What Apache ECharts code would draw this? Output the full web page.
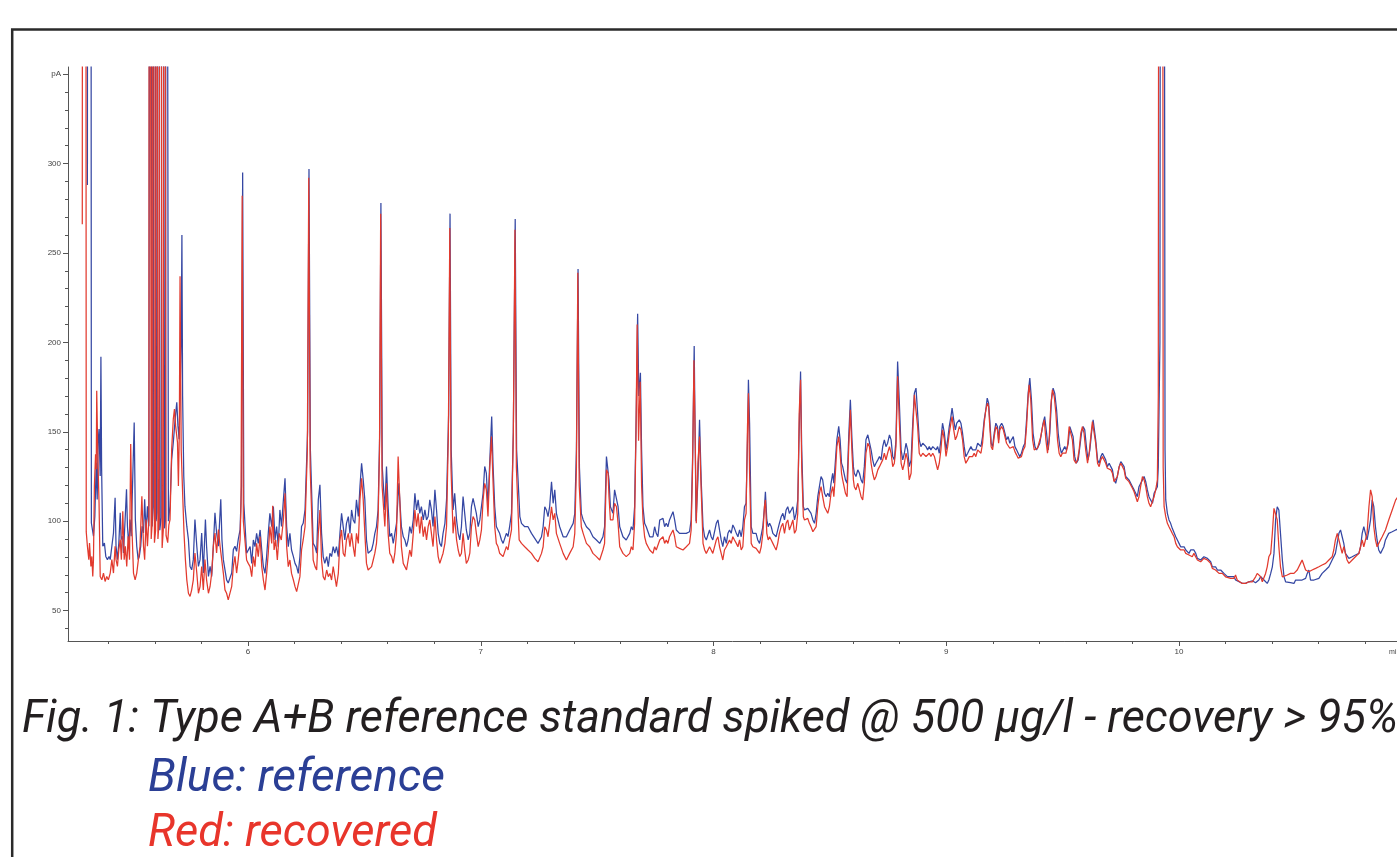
<!DOCTYPE html>
<html><head><meta charset="utf-8">
<script src="https://cdn.jsdelivr.net/npm/echarts@6/dist/echarts.min.js"></script>
<style>html,body{margin:0;padding:0;background:#fff;overflow:hidden}#c{width:1397px;height:857px}</style>
</head><body><div id="c"></div>
<script>
// Chromatogram traces: [retention time (min), signal (pA)]; 900 = off-scale peak top
const blueTrace = [
[5.310,288],[5.312,900],[5.324,900],[5.327,99],[5.336,91.6],[5.342,102.8],[5.348,132.7],[5.352,112.1],[5.356,144],[5.360,151.5],[5.365,125.3],[5.368,192],[5.371,130],[5.376,86],[5.383,87.8],[5.389,80.3],[5.396,78.5],[5.403,80.3],[5.408,78.5],[5.415,86],[5.422,93.4],[5.429,113.1],[5.433,86],[5.439,78.5],[5.445,87.8],[5.451,104.7],[5.455,89.7],[5.461,91.6],[5.465,82.2],[5.472,100.9],[5.478,117.8],[5.482,97.2],[5.488,86],[5.493,100.9],[5.498,91.6],[5.505,125.3],[5.511,155.2],[5.516,100.9],[5.522,86],[5.528,78.5],[5.533,80.3],[5.539,86],[5.545,97.2],[5.551,93.4],[5.556,112.2],[5.562,93.4],[5.568,108.4],[5.574,97.2],
[5.580,900],[5.584,900],[5.588,97],[5.593,108],[5.597,900],[5.601,900],[5.605,100],[5.609,105],[5.613,900],[5.617,900],[5.621,95],[5.627,102],[5.632,900],[5.637,900],[5.641,96],[5.645,100],[5.649,900],[5.654,900],[5.658,100],
[5.665,108.4],[5.672,134.6],[5.679,144],[5.687,157.1],[5.694,166.5],[5.699,153.3],[5.704,145.9],[5.713,200],[5.716,260],[5.719,170],[5.724,125.3],[5.729,108.4],[5.737,97.2],[5.744,89.7],[5.751,74.7],[5.758,72.8],[5.765,78.5],[5.772,100.9],[5.780,86],[5.787,74.7],[5.794,78.5],[5.801,93.4],[5.808,71],[5.817,100.9],[5.822,86],[5.830,69.1],[5.837,74.7],[5.844,69.1],[5.851,86],[5.858,104.7],[5.865,93.4],[5.873,86],[5.877,97.2],[5.883,112.2],[5.888,89.7],[5.894,78.5],[5.901,78.5],[5.908,67.2],[5.915,65.4],[5.923,65.4],[5.930,71],[5.937,84.1],[5.944,86],[5.951,83.1],[5.958,89.7],[5.966,95.3],[5.972,120],[5.977,295],[5.982,110],
[5.994,82.1],[6.009,85.8],[6.016,76.4],[6.023,89.5],[6.030,85.8],[6.037,93.2],[6.044,87.6],[6.052,95.1],[6.059,83.9],[6.066,74.6],[6.073,70.8],[6.080,80.2],[6.087,93.2],[6.094,104.4],[6.102,97],[6.109,108.2],[6.116,89.5],[6.123,97],[6.130,85.8],[6.137,106.3],[6.144,97],[6.152,111.9],[6.159,124],[6.166,97],[6.173,85.8],[6.180,93.2],[6.187,83.9],[6.195,80.2],[6.202,76.4],[6.209,74.6],[6.216,70.8],[6.223,80.2],[6.230,97],[6.237,98.8],[6.245,106.3],[6.256,150],[6.262,297],[6.268,140],
[6.280,87.6],[6.288,85.8],[6.295,82.1],[6.302,111.9],[6.309,120.3],[6.316,93.2],[6.323,80.2],[6.330,76.4],[6.338,80.2],[6.345,74.6],[6.352,82.1],[6.359,80.2],[6.366,85.8],[6.373,82.1],[6.380,85.8],[6.388,80.2],[6.395,93.2],[6.402,104.4],[6.409,97],[6.416,89.5],[6.423,98.8],[6.431,102.6],[6.438,93.2],[6.445,106.3],[6.452,100.7],[6.459,98.8],[6.466,111.9],[6.474,102.6],[6.481,119.4],[6.488,132.4],[6.495,123.1],[6.502,111.9],[6.509,89.5],[6.516,82.1],[6.524,82.1],[6.531,83.9],[6.538,87.6],[6.545,93.2],[6.552,97],[6.559,106.3],[6.566,150],[6.571,278],[6.577,130],
[6.588,106.3],[6.595,130.6],[6.602,108.2],[6.609,91.4],[6.617,93.2],[6.624,87.6],[6.631,93.2],[6.638,98.8],[6.648,121.2],[6.659,97],[6.667,91.4],[6.674,89.5],[6.681,85.8],[6.688,89.5],[6.695,97],[6.702,93.2],[6.710,100.7],[6.717,115.6],[6.724,106.3],[6.731,111.9],[6.738,104.4],[6.745,108.2],[6.753,100.7],[6.760,106.3],[6.767,100.7],[6.774,102.6],[6.781,111.9],[6.788,106.3],[6.795,97],[6.803,117.5],[6.810,106.3],[6.817,93.2],[6.824,87.6],[6.831,85.8],[6.838,93.2],[6.846,98.8],[6.853,111.9],[6.862,160],[6.868,272],[6.873,140],
[6.881,106.3],[6.888,115.6],[6.896,100.7],[6.903,93.2],[6.910,89.5],[6.917,97],[6.924,113.8],[6.931,104.4],[6.938,95.1],[6.946,89.5],[6.953,93.2],[6.960,108.2],[6.967,112.8],[6.974,111.9],[6.981,104.4],[6.989,97],[6.996,100.7],[7.003,108.2],[7.010,115.6],[7.017,130.6],[7.024,126.8],[7.031,108.2],[7.039,134.3],[7.047,158.6],[7.053,130.6],[7.060,108.2],[7.067,97],[7.074,95.1],[7.081,93.2],[7.089,89.5],[7.096,87.6],[7.103,87.6],[7.110,93.2],[7.117,91.4],[7.124,97],[7.132,104.4],[7.140,150],[7.148,269],[7.154,140],
[7.168,102.6],[7.175,98.8],[7.189,96.9],[7.203,96.9],[7.218,93.2],[7.232,90.4],[7.246,87.6],[7.261,91.3],[7.268,96.9],[7.275,108.1],[7.282,106.3],[7.289,102.6],[7.296,108.1],[7.304,122.1],[7.311,110],[7.318,117.5],[7.325,104.4],[7.339,96.9],[7.354,91.3],[7.368,91.3],[7.382,95.1],[7.397,98.8],[7.404,104.4],[7.411,140],[7.418,241],[7.424,130],
[7.432,104.4],[7.440,100.7],[7.454,96.9],[7.468,95.1],[7.482,91.3],[7.497,89.5],[7.511,87.6],[7.525,91.3],[7.532,96.9],[7.540,136.1],[7.547,135.2],[7.551,123.1],[7.557,108.1],[7.568,104.4],[7.575,117.5],[7.583,117.5],[7.590,108.1],[7.597,96.9],[7.611,91.3],[7.625,89.5],[7.640,93.2],[7.647,96.9],[7.654,95.1],[7.661,108.1],[7.668,160],[7.674,216],[7.679,170],[7.686,183],[7.691,140],
[7.697,108.1],[7.704,98.8],[7.711,96.9],[7.726,91.3],[7.740,91.3],[7.747,96.9],[7.754,93.2],[7.761,91.3],[7.769,100.7],[7.783,101.6],[7.790,96.9],[7.797,98.8],[7.804,96.9],[7.811,100.7],[7.826,105.3],[7.833,100.7],[7.840,95.1],[7.854,93.2],[7.869,93.2],[7.883,93.2],[7.897,94.1],[7.904,100.7],[7.911,140],[7.917,198],[7.925,100],[7.933,123.1],[7.940,156.7],[7.947,123.1],[7.955,96.9],[7.962,91.3],[7.969,89.5],[7.983,95.1],[7.990,91.3],[7.997,89.5],[8.012,98.8],[8.019,100.7],
[8.026,95],[8.033,89.5],[8.040,85.8],[8.047,91.3],[8.055,87.6],[8.062,93.2],[8.069,95.1],[8.076,93.2],[8.083,97.9],[8.090,96],[8.098,93.2],[8.105,91.3],[8.112,95.1],[8.119,91.3],[8.126,96.9],[8.133,108.1],[8.140,110],[8.146,145.5],[8.150,179.1],[8.155,154.8],[8.162,96.9],[8.169,93.2],[8.176,93.2],[8.183,93.2],[8.190,89.5],[8.198,87.6],[8.205,88.5],[8.212,96.9],[8.219,108.1],[8.223,116.5],[8.229,100.7],[8.235,96.9],[8.241,98.8],[8.248,96.9],[8.255,93.2],[8.262,93.2],[8.269,91.3],[8.276,95.1],[8.283,98.8],[8.291,102.5],[8.298,104.4],[8.305,100.7],[8.312,106.3],[8.319,108.1],[8.326,104.4],[8.334,106.3],[8.341,108.1],[8.348,100.7],[8.355,104.4],[8.362,111.9],[8.368,150],[8.374,183.7],[8.379,140],[8.386,108.1],[8.391,106.3],[8.398,106.3],[8.405,107.2],[8.412,106.3],[8.419,104.4],[8.427,100.7],[8.434,98.8],[8.441,104.4],[8.448,113.7],[8.455,119.3],[8.462,125],[8.469,123.1],[8.477,115.6],[8.484,113.7],[8.491,115.6],[8.498,113.7],[8.505,121.2],[8.512,126.8],[8.517,121.2],[8.522,130.5],[8.530,145.5],[8.538,153],[8.544,145.5],[8.550,132.4],[8.555,130.5],[8.561,126.8],[8.567,123.1],[8.574,121.2],[8.581,147.3],[8.588,167.9],[8.595,145.5],[8.601,130.5],[8.605,126.8],[8.612,125],[8.620,128.7],[8.627,126.8],[8.634,123.1],[8.641,121.2],[8.648,130.5],[8.655,145.5],[8.663,148.3],[8.670,147.3],[8.677,139.9],[8.684,134.3],[8.691,130.5],[8.698,132.4],[8.706,134.3],[8.713,136.2],[8.720,134.3],[8.727,141.7],[8.734,145.5],[8.741,141.7],[8.748,143.6],[8.756,148.3],[8.763,145.5],[8.770,136.2],[8.777,134.3],[8.784,145.5],[8.791,189.3],[8.798,167.9],[8.806,139.9],[8.813,134.3],[8.820,138],[8.827,143.6],[8.834,139.9],[8.841,130.5],[8.849,134.3],[8.856,154.8],[8.863,171.6],[8.870,174.4],[8.877,160.4],[8.884,145.5],[8.891,141.7],[8.899,143.6],[8.906,143.6],[8.913,141.7],[8.920,139.9],[8.927,141.7],[8.934,139.9],[8.942,141.7],[8.949,140.8],[8.956,139.9],[8.963,141.7],[8.970,138],[8.977,145.5],[8.984,154.8],[8.992,149.2],[8.999,139.9],[9.006,145.5],[9.013,153],[9.020,158.5],[9.025,163.2],[9.032,156.7],[9.039,151.1],[9.045,154.8],
[9.056,156.7],[9.063,154.8],[9.070,149.2],[9.077,141.7],[9.084,136.1],[9.092,138],[9.099,139.9],[9.106,141.7],[9.113,139.9],[9.120,140.8],[9.127,139.9],[9.135,143.6],[9.142,144.5],[9.149,141.7],[9.156,147.3],[9.163,156.7],[9.170,162.3],[9.176,168.8],[9.182,166],[9.187,156.7],[9.193,143.6],[9.199,141.7],[9.206,149.2],[9.213,154.8],[9.220,152.9],[9.225,145.5],[9.230,152.9],[9.238,154.8],[9.245,152.9],[9.252,149.2],[9.259,145.5],[9.266,147.3],[9.273,143.6],[9.280,145.5],[9.288,147.3],[9.295,141.7],[9.302,139.9],[9.309,138],[9.316,136.1],[9.323,138],[9.331,141.7],[9.338,143.6],[9.345,156.7],[9.352,171.6],[9.359,180],[9.366,167.9],[9.373,149.2],[9.381,141.7],[9.388,139.9],[9.395,141.7],[9.402,143.6],[9.409,149.2],[9.416,154.8],[9.423,158.5],[9.431,149.2],[9.438,139.9],[9.445,149.2],[9.452,167.9],[9.459,174.4],[9.466,171.6],[9.474,162.3],[9.481,149.2],[9.488,141.7],[9.495,138],[9.502,139.9],[9.509,141.7],[9.516,139.9],[9.524,143.6],[9.531,152.9],[9.538,153.9],[9.545,147.3],[9.552,136.1],[9.559,132.4],[9.567,134.3],[9.574,141.7],[9.581,149.2],[9.588,152.9],[9.595,151.1],[9.602,141.7],[9.609,134.3],[9.617,139.9],[9.624,149.2],[9.631,156.7],[9.637,157.6],[9.642,145.5],[9.650,134.3],[9.657,132.4],[9.664,136.1],[9.671,138],[9.678,138],[9.685,134.3],[9.692,130.5],[9.700,132.4],[9.707,130.5],[9.714,128.7],[9.721,123.1],[9.728,121.2],[9.735,125],[9.743,130.5],[9.750,133.3],[9.757,134.3],[9.764,130.5],[9.771,125],[9.778,125],[9.785,123.1],[9.793,122.1],[9.800,119.3],[9.807,117.5],[9.814,115.6],[9.821,113.7],[9.828,119.3],[9.835,119.3],[9.843,123.1],[9.850,125],[9.857,122.1],[9.864,117.5],[9.871,113.7],[9.878,111.9],[9.886,110],[9.893,115.6],[9.900,117.5],[9.907,119.3],[9.911,130.5],[9.918,200],[9.923,900],[9.933,900],[9.940,140],[9.943,111.9],[9.950,104.4],[9.957,100.7],[9.964,98.8],[9.971,96],[9.979,95.1],[9.986,91.3],[9.993,89.5],[10.000,87.6],[10.007,85.7],[10.014,86.7],[10.022,85.7],[10.029,83.9],[10.036,84.8],[10.043,82],[10.050,83.9],[10.057,82.9],[10.064,83.9],[10.072,82],[10.079,79.2],[10.086,80.1],[10.093,78.3],[10.100,79.2],[10.107,80.1],[10.114,81.1],[10.122,79.2],[10.129,78.3],[10.136,77.3],[10.143,74.5],[10.157,74.5],[10.165,72.7],[10.172,71.7],[10.179,72.7],[10.186,71.7],[10.193,70.8],[10.200,69.9],[10.208,69],[10.222,69],[10.229,68],[10.236,69],[10.243,67.1],[10.258,66.1],[10.272,65.2],[10.286,65.2],[10.300,66.1],[10.315,66.7],[10.329,65.6],[10.343,67.1],[10.351,69],[10.358,68],[10.365,67.1],[10.372,66.1],[10.379,65.2],[10.386,67.1],[10.394,70.8],[10.401,74.5],[10.408,82],[10.415,100.7],[10.422,108.1],[10.429,106.3],[10.436,93.2],[10.444,78.3],[10.451,69],[10.458,66.1],[10.465,65.2],[10.479,65.6],[10.494,65.2],[10.501,67.1],[10.515,67.1],[10.529,67.1],[10.544,68],[10.551,70.8],[10.558,72.7],[10.565,67.1],[10.580,67.1],[10.601,68],[10.615,70.8],[10.630,72.7],[10.644,74.5],[10.658,78.3],[10.672,82],[10.687,93.2],[10.694,95.1],[10.701,91.3],[10.708,87.6],[10.715,82],[10.730,79.2],[10.744,80.1],[10.758,81.1],[10.773,82],[10.780,85.7],[10.787,93.2],[10.794,96.9],[10.801,93.2],[10.808,89.5],[10.816,95.1],[10.823,100.7],[10.830,111.9],[10.837,108.1],[10.844,96.9],[10.851,89.5],[10.858,83.9],[10.866,82],[10.873,82.9],[10.880,85.7],[10.887,89.5],[10.901,93.2],[10.916,94.1],[10.931,95.1],[10.940,95.5]
];
const redTrace = [
[5.288,266],[5.290,900],[5.302,900],[5.305,94],[5.310,86],[5.316,78.5],[5.319,87.8],[5.325,74.7],[5.329,80.3],[5.333,69.1],[5.336,78.5],[5.340,119.7],[5.345,137.4],[5.348,129],[5.350,173],[5.355,134.6],[5.360,110.3],[5.365,69.1],[5.372,67.2],[5.379,71],[5.386,66.3],[5.393,69.1],[5.400,67.2],[5.408,71],[5.415,78.5],[5.422,71],[5.429,86],[5.433,78.5],[5.439,74.7],[5.445,84.1],[5.451,89.7],[5.456,78.5],[5.462,105.6],[5.468,78.5],[5.473,86],[5.479,74.7],[5.485,91.6],[5.491,78.5],[5.496,143.1],[5.502,93.4],[5.508,71],[5.515,67.2],[5.522,71],[5.529,78.5],[5.536,86],[5.544,114],[5.551,86],[5.556,78.5],[5.562,100.9],[5.568,86],[5.574,100.9],
[5.577,900],[5.581,900],[5.584,90],[5.588,98],[5.591,900],[5.595,900],[5.598,88],[5.603,95],[5.606,900],[5.610,900],[5.613,90],[5.618,100],[5.622,900],[5.627,900],[5.631,85],[5.636,95],[5.640,900],[5.644,900],[5.648,92],[5.655,88],[5.660,98],
[5.665,100.9],[5.672,140.2],[5.679,157.1],[5.684,162.7],[5.689,153.3],[5.697,144],[5.701,119.7],[5.705,151.5],[5.708,237],[5.713,140],[5.719,116],[5.725,93.4],[5.731,78.5],[5.737,67.2],[5.744,59.7],[5.751,57.9],[5.758,61.6],[5.765,67.2],[5.772,82.2],[5.780,71],[5.787,59.7],[5.794,63.5],[5.801,74.7],[5.808,61.6],[5.815,78.5],[5.822,67.2],[5.830,59.7],[5.837,63.5],[5.844,71],[5.851,86],[5.858,93.4],[5.865,82.2],[5.873,95.3],[5.880,86],[5.887,78.5],[5.894,71],[5.901,61.6],[5.908,59.7],[5.915,56],[5.923,56],[5.930,63.5],[5.937,74.7],[5.944,80.3],[5.951,71],[5.958,78.5],[5.966,89.7],[5.970,110],[5.975,282],[5.980,100],
[5.994,78.3],[6.001,76.4],[6.009,74.6],[6.016,69],[6.023,80.2],[6.030,74.6],[6.037,87.6],[6.044,80.2],[6.052,91.4],[6.059,74.6],[6.066,67.1],[6.073,61.5],[6.080,70.8],[6.087,82.1],[6.094,97],[6.102,87.6],[6.106,108.6],[6.112,83.9],[6.119,89.5],[6.126,78.3],[6.134,93.2],[6.143,89.5],[6.152,100.7],[6.159,115.6],[6.166,85.8],[6.173,74.6],[6.180,78.3],[6.187,70.8],[6.195,67.1],[6.202,63.4],[6.209,60.6],[6.216,59.7],[6.223,69],[6.230,83.9],[6.237,89.5],[6.245,97],[6.255,140],[6.261,292],[6.267,130],
[6.280,78.3],[6.288,74.6],[6.295,72.7],[6.302,93.2],[6.309,106.3],[6.316,78.3],[6.323,69],[6.330,67.1],[6.338,72.7],[6.345,69],[6.352,70.8],[6.359,67.1],[6.366,74.6],[6.373,69],[6.380,63.4],[6.388,70.8],[6.395,89.5],[6.402,95.1],[6.409,82.1],[6.416,80.2],[6.423,89.5],[6.431,93.2],[6.438,85.8],[6.445,93.2],[6.452,85.8],[6.459,80.2],[6.466,93.2],[6.474,87.6],[6.481,111.9],[6.488,124],[6.495,111.9],[6.502,93.2],[6.509,76.4],[6.516,72.7],[6.524,72.7],[6.531,74.6],[6.538,78.3],[6.545,82.1],[6.552,87.6],[6.559,100.7],[6.565,140],[6.570,272],[6.576,120],
[6.588,97],[6.595,121.2],[6.602,93.2],[6.609,82.1],[6.617,80.2],[6.624,76.4],[6.631,82.1],[6.638,93.2],[6.645,136.2],[6.652,111.9],[6.659,85.8],[6.667,76.4],[6.674,74.6],[6.681,72.7],[6.688,78.3],[6.695,83.9],[6.702,80.2],[6.710,93.2],[6.717,106.3],[6.724,97],[6.731,104.4],[6.738,93.2],[6.745,102.6],[6.753,91.4],[6.760,97],[6.767,89.5],[6.774,97],[6.781,100.7],[6.788,93.2],[6.795,85.8],[6.803,102.6],[6.810,89.5],[6.817,80.2],[6.824,76.4],[6.831,76.4],[6.838,82.1],[6.846,87.6],[6.853,97],[6.861,150],[6.867,264],[6.872,130],
[6.881,93.2],[6.888,102.6],[6.896,89.5],[6.903,83.9],[6.910,80.2],[6.917,82.1],[6.924,93.2],[6.931,83.9],[6.938,76.4],[6.946,78.3],[6.953,82.1],[6.960,97],[6.967,102.6],[6.974,100.7],[6.981,93.2],[6.989,85.8],[6.996,89.5],[7.003,95.1],[7.010,111.9],[7.017,121.2],[7.024,117.5],[7.031,102.6],[7.039,130.6],[7.046,147.4],[7.053,121.2],[7.060,97],[7.067,87.6],[7.074,85.8],[7.081,82.1],[7.089,82.1],[7.096,80.2],[7.103,80.2],[7.110,85.8],[7.117,83.9],[7.124,89.5],[7.132,95.1],[7.140,150],[7.147,263],[7.153,130],
[7.165,89.5],[7.175,87.6],[7.189,85.7],[7.203,83.9],[7.218,82],[7.232,79.2],[7.246,77.3],[7.261,82],[7.268,85.7],[7.275,96.9],[7.282,95.1],[7.289,91.3],[7.296,98.8],[7.304,108.1],[7.311,100.7],[7.318,104.4],[7.325,93.2],[7.339,87.6],[7.354,82],[7.368,78.3],[7.375,77.3],[7.382,82],[7.397,85.7],[7.404,93.2],[7.411,130],[7.417,239],[7.423,120],
[7.432,96.9],[7.440,93.2],[7.454,87.6],[7.468,85.7],[7.482,82],[7.497,80.2],[7.511,78.3],[7.525,83.9],[7.532,87.6],[7.540,128.7],[7.547,126.8],[7.551,113.7],[7.557,100.7],[7.568,100.7],[7.575,110],[7.583,108.1],[7.590,98.8],[7.597,85.7],[7.611,82],[7.625,80.2],[7.640,82],[7.647,85.7],[7.654,83.9],[7.661,98.8],[7.667,150],[7.672,210],[7.678,145],[7.685,178],[7.691,120],
[7.697,100.7],[7.704,91.3],[7.711,87.6],[7.726,83.9],[7.740,82],[7.747,85.7],[7.754,83.9],[7.761,82.9],[7.769,89.5],[7.783,91.3],[7.790,87.6],[7.797,89.5],[7.804,87.6],[7.811,91.3],[7.826,95.1],[7.833,91.3],[7.840,85.7],[7.854,84.8],[7.869,83.9],[7.883,85.7],[7.897,87.6],[7.904,95.1],[7.910,130],[7.916,190],[7.922,140],[7.926,98.8],[7.933,132.4],[7.940,147.3],[7.947,117.5],[7.955,87.6],[7.962,83.9],[7.969,82],[7.983,85.7],[7.990,83.9],[7.997,82],[8.012,89.5],[8.019,91.3],
[8.026,85.7],[8.033,82],[8.040,78.3],[8.047,83.9],[8.055,85.7],[8.062,87.6],[8.069,89.5],[8.076,87.6],[8.083,91.3],[8.090,89.5],[8.098,87.6],[8.105,85.7],[8.112,89.5],[8.119,83.9],[8.126,85.7],[8.133,100.7],[8.140,104.4],[8.146,153],[8.150,171.6],[8.155,126.8],[8.162,87.6],[8.169,85.7],[8.176,85.7],[8.183,84.8],[8.190,83.9],[8.198,82],[8.205,85.7],[8.212,93.2],[8.219,108.1],[8.223,111.9],[8.229,93.2],[8.235,89.5],[8.241,91.3],[8.248,89.5],[8.255,87.6],[8.262,85.7],[8.269,83.9],[8.276,87.6],[8.283,93.2],[8.291,97],[8.298,98.8],[8.305,93.2],[8.312,98.8],[8.319,100.7],[8.326,95.1],[8.334,97.9],[8.341,100.7],[8.348,93.2],[8.355,95.1],[8.362,104.4],[8.368,160],[8.374,179.1],[8.379,130],[8.386,102.5],[8.391,100.7],[8.398,100.7],[8.405,101.6],[8.412,98.8],[8.419,96.9],[8.427,94.1],[8.434,93.2],[8.441,97],[8.448,108.1],[8.455,115.6],[8.462,119.3],[8.469,113.7],[8.477,108.1],[8.484,106.3],[8.491,104.4],[8.498,108.1],[8.505,115.6],[8.512,119.3],[8.517,113.7],[8.522,123.1],[8.530,141.7],[8.538,147.3],[8.544,138],[8.550,126.8],[8.555,123.1],[8.561,119.3],[8.567,115.6],[8.574,113.7],[8.581,141.7],[8.588,162.3],[8.595,138],[8.601,123.1],[8.605,119.3],[8.612,117.5],[8.620,121.2],[8.627,117.5],[8.634,113.7],[8.641,111.9],[8.648,121.2],[8.655,138],[8.663,143.6],[8.670,141.7],[8.677,132.4],[8.684,126.8],[8.691,123.1],[8.698,125],[8.706,128.7],[8.713,130.5],[8.720,130.5],[8.727,134.3],[8.734,138],[8.741,134.3],[8.748,138],[8.756,141.7],[8.763,138],[8.770,130.5],[8.777,132.4],[8.784,141.7],[8.791,181],[8.798,156.7],[8.806,132.4],[8.813,128.7],[8.820,132.4],[8.827,138],[8.834,134.3],[8.841,123.1],[8.849,126.8],[8.856,149.2],[8.863,170.7],[8.870,169.7],[8.877,153],[8.884,138],[8.891,136.2],[8.899,138],[8.906,138],[8.913,136.2],[8.920,136.2],[8.927,138],[8.934,136.2],[8.942,138],[8.949,136.2],[8.956,132.4],[8.963,128.7],[8.970,132.4],[8.977,139.9],[8.984,151.1],[8.992,145.5],[8.999,136.2],[9.006,141.7],[9.013,149.2],[9.020,154.8],[9.025,158.5],[9.032,151.1],[9.039,145.5],[9.045,147.3],
[9.056,152.9],[9.063,151.1],[9.070,145.5],[9.077,136.1],[9.084,132.4],[9.092,134.3],[9.099,136.1],[9.106,137.1],[9.113,136.1],[9.120,138],[9.127,136.1],[9.135,139.9],[9.142,140.8],[9.149,138],[9.156,143.6],[9.163,154.8],[9.170,162.3],[9.177,166],[9.182,164.1],[9.187,152.9],[9.193,141.7],[9.199,139.9],[9.206,147.3],[9.213,152.9],[9.220,151.1],[9.225,143.6],[9.230,151.1],[9.238,152.9],[9.245,151.1],[9.252,147.3],[9.259,143.6],[9.266,143.6],[9.273,140.8],[9.280,141.7],[9.288,141.7],[9.295,138.9],[9.302,137.1],[9.309,135.2],[9.316,134.3],[9.323,136.1],[9.331,139.9],[9.338,141.7],[9.345,152.9],[9.352,169.7],[9.356,176.3],[9.363,167.9],[9.371,145.5],[9.378,139.9],[9.385,138.9],[9.392,140.8],[9.399,141.7],[9.406,147.3],[9.414,152.9],[9.421,156.7],[9.428,145.5],[9.435,138],[9.442,145.5],[9.449,164.1],[9.456,173.5],[9.464,169.7],[9.471,160.4],[9.478,145.5],[9.485,138],[9.492,136.1],[9.499,138],[9.506,138.9],[9.514,138],[9.521,141.7],[9.528,152.9],[9.535,152.9],[9.542,145.5],[9.549,134.3],[9.557,132.4],[9.564,134.3],[9.571,139.9],[9.578,149.2],[9.585,152.9],[9.592,149.2],[9.599,139.9],[9.607,132.4],[9.614,138],[9.621,147.3],[9.628,155.7],[9.635,154.8],[9.642,143.6],[9.650,132.4],[9.657,130.5],[9.664,134.3],[9.671,136.1],[9.678,137.1],[9.685,132.4],[9.692,129.6],[9.700,130.5],[9.707,128.7],[9.714,126.8],[9.721,122.1],[9.728,121.2],[9.735,125],[9.743,130.5],[9.750,132.4],[9.757,132.4],[9.764,128.7],[9.771,124],[9.778,123.1],[9.785,122.1],[9.793,121.2],[9.800,118.4],[9.807,116.5],[9.814,113.7],[9.821,110.9],[9.828,113.7],[9.835,119.3],[9.843,125],[9.850,123.1],[9.857,119.3],[9.864,113.7],[9.871,110],[9.878,108.1],[9.886,107.2],[9.893,113.7],[9.900,117.5],[9.907,123.1],[9.911,170],[9.915,900],[9.928,900],[9.932,130],[9.936,108.1],[9.943,102.5],[9.950,98.8],[9.957,96.9],[9.964,95.1],[9.971,93.2],[9.979,91.3],[9.986,87.6],[9.993,85.7],[10.000,84.8],[10.007,83.9],[10.014,84.8],[10.022,83.9],[10.029,82],[10.036,82.9],[10.043,81.1],[10.050,82],[10.057,80.1],[10.064,82],[10.072,81.1],[10.079,78.3],[10.086,78.3],[10.093,77.3],[10.100,78.3],[10.107,79.2],[10.114,80.1],[10.122,78.3],[10.129,77.3],[10.136,76.4],[10.143,73.6],[10.150,73.6],[10.157,72.7],[10.165,71.7],[10.172,70.8],[10.179,71.7],[10.186,70.8],[10.193,69.9],[10.200,68.9],[10.208,68],[10.222,68],[10.229,67.1],[10.236,68],[10.243,69.9],[10.250,67.1],[10.258,66.1],[10.272,65.2],[10.286,65.2],[10.300,66.1],[10.315,66.1],[10.322,67.1],[10.329,68.9],[10.336,70.8],[10.343,71.7],[10.351,68.9],[10.358,66.1],[10.365,67.1],[10.372,70.8],[10.379,74.5],[10.386,80.1],[10.394,82],[10.401,93.2],[10.408,107.2],[10.412,108.1],[10.415,106.3],[10.422,100.7],[10.429,85.7],[10.436,74.5],[10.444,68.9],[10.451,69.3],[10.465,69.9],[10.479,70.8],[10.494,70.8],[10.508,72.7],[10.515,72.7],[10.522,76.4],[10.529,78.3],[10.537,79.2],[10.544,72.7],[10.551,71.7],[10.558,71.7],[10.572,72.7],[10.587,73.6],[10.601,74.5],[10.615,75.5],[10.630,76.4],[10.644,78.3],[10.658,80.1],[10.665,83.9],[10.672,89.5],[10.680,93.2],[10.687,89.5],[10.694,85.7],[10.701,82],[10.708,85.7],[10.715,82],[10.722,78.3],[10.730,76.4],[10.737,77.3],[10.744,78.3],[10.758,80.1],[10.773,82],[10.780,85.7],[10.787,89.5],[10.794,85.7],[10.801,85.7],[10.808,93.2],[10.816,108.1],[10.823,117.5],[10.830,113.7],[10.837,96.9],[10.844,89.5],[10.851,85.7],[10.858,87.6],[10.873,91.3],[10.887,95.1],[10.901,100.7],[10.916,106.3],[10.931,111.9],[10.940,113.5]
];
const xMajorTicks = [6, 7, 8, 9, 10];
const xMinorTicks = [5.4,5.6,5.8,6,6.2,6.4,6.6,6.8,7,7.2,7.4,7.6,7.8,8,8.2,8.4,8.6,8.8,9,9.2,9.4,9.6,9.8,10,10.2,10.4,10.6,10.8];
const yMajorTicks = [50, 100, 150, 200, 250, 300, 350];
const yMinorTicks = [40,50,60,70,80,90,100,110,120,130,140,150,160,170,180,190,200,210,220,230,240,250,260,270,280,290,300,310,320,330,340,350];
const yUnitLabel = 'pA';
const xUnitLabel = 'min';
const captionLines = [
  'Fig. 1: Type A+B reference standard spiked @ 500 µg/l - recovery > 95%',
  'Blue: reference',
  'Red: recovered'
];
const captionColors = ['#231f20', '#2b3f95', '#e8352b'];

// ---- layout ----
const X_MIN = 5.2266, X_MAX = 10.9366, Y_MIN = 33, Y_MAX = 354;
const captionFont = 'italic 400 47px Roboto';
const captionBoxes = [ {x: 22, y: 720, w: 1376}, {x: 148, y: 779, w: 297}, {x: 148, y: 834, w: 289} ];
const mctx = document.createElement('canvas').getContext('2d');
mctx.font = captionFont;

const chart = echarts.init(document.getElementById('c'), null, {renderer: 'canvas'});
const axisCol = '#555';
const lblStyle = {fontSize: 8, color: '#444', fontFamily: 'Liberation Sans, Arial, sans-serif'};
const graphics = [
  {type: 'rect', shape: {x: 12.2, y: 29.5, width: 1420, height: 900}, style: {fill: 'none', stroke: '#2a2a2a', lineWidth: 2.5}, z: 10},
  {type: 'text', x: 1389, y: 652, style: {text: xUnitLabel, fontSize: 7, fill: '#444', fontFamily: 'Liberation Sans, Arial', verticalAlign: 'middle'}}
];
captionLines.forEach((t, i) => {
  const b = captionBoxes[i];
  const w = mctx.measureText(t).width;
  graphics.push({type: 'text', x: b.x, y: b.y, scaleX: b.w / w,
    style: {text: t, font: captionFont, fill: captionColors[i], verticalAlign: 'middle', align: 'left'}});
});

chart.setOption({
  animation: false,
  backgroundColor: '#fff',
  grid: {left: 68, right: 0, top: 67, bottom: 216, containLabel: false},
  xAxis: [
    {type: 'value', min: X_MIN, max: X_MAX, position: 'bottom',
     axisLine: {show: true, lineStyle: {color: axisCol, width: 1}},
     axisTick: {show: true, length: 3, customValues: xMinorTicks, lineStyle: {color: axisCol}},
     axisLabel: {show: false}, splitLine: {show: false}},
    {type: 'value', min: X_MIN, max: X_MAX, position: 'bottom',
     axisLine: {show: false},
     axisTick: {show: true, length: 5, customValues: xMajorTicks, lineStyle: {color: axisCol}},
     axisLabel: Object.assign({show: true, margin: 7, customValues: xMajorTicks}, lblStyle),
     splitLine: {show: false}}
  ],
  yAxis: [
    {type: 'value', min: Y_MIN, max: Y_MAX, position: 'left',
     axisLine: {show: true, lineStyle: {color: axisCol, width: 1}},
     axisTick: {show: true, length: 3, customValues: yMinorTicks, lineStyle: {color: axisCol}},
     axisLabel: {show: false}, splitLine: {show: false}},
    {type: 'value', min: Y_MIN, max: Y_MAX, position: 'left',
     axisLine: {show: false},
     axisTick: {show: true, length: 5, customValues: yMajorTicks, lineStyle: {color: axisCol}},
     axisLabel: Object.assign({show: true, margin: 7, customValues: yMajorTicks,
       formatter: v => (v === 350 ? yUnitLabel : String(v))}, lblStyle),
     splitLine: {show: false}}
  ],
  series: [
    {name: 'Blue: reference', type: 'line', data: blueTrace, xAxisIndex: 0, yAxisIndex: 0,
     showSymbol: false, symbol: 'none', clip: true,
     lineStyle: {color: '#3547a3', width: 1.25}, z: 3},
    {name: 'Red: recovered', type: 'line', data: redTrace, xAxisIndex: 0, yAxisIndex: 0,
     showSymbol: false, symbol: 'none', clip: true,
     lineStyle: {color: '#e23a2e', width: 1.25}, z: 4}
  ],
  graphic: graphics
});
</script>
</body></html>
